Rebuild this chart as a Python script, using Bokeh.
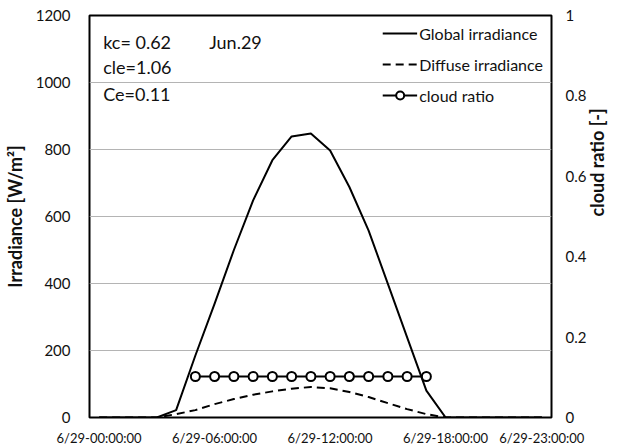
import math
from bokeh.plotting import figure
from bokeh.models import (Range1d, LinearAxis, FixedTicker, Label, Legend, LegendItem,
                          ColumnDataSource)
from bokeh.embed import file_html
from bokeh.resources import INLINE

# ---------------- data ----------------
hours = [0, 1, 2, 3, 4, 5, 6, 7, 8, 9, 10, 11, 12, 13, 14, 15, 16, 17, 18, 19, 20, 21, 22, 23]
global_irr = [0, 0, 0, 0, 22, 185, 340, 500, 648, 768, 839, 848, 797, 688, 558, 399, 239, 80, 0, 0, 0, 0, 0, 0]
diffuse_irr = [0, 0, 0, 0, 10, 22, 40, 55, 68, 78, 86, 91, 87, 76, 61, 43, 25, 10, 0, 0, 0, 0, 0, 0]
cloud_hours = [5, 6, 7, 8, 9, 10, 11, 12, 13, 14, 15, 16, 17]
cloud_ratio = [0.102, 0.102, 0.102, 0.102, 0.102, 0.102, 0.102, 0.102, 0.102, 0.102, 0.102, 0.102, 0.102]
x_tick_hours = [0, 6, 12, 18, 23]
x_tick_labels = ["6/29-00:00:00", "6/29-06:00:00", "6/29-12:00:00", "6/29-18:00:00", "6/29-23:00:00"]
left_ticks = [0, 200, 400, 600, 800, 1000, 1200]
right_ticks = [0, 0.2, 0.4, 0.6, 0.8, 1]
right_tick_labels = ["0", "0.2", "0.4", "0.6", "0.8", "1"]
annotations = ["kc= 0.62", "Jun.29", "cle=1.06", "Ce=0.11"]

FONT = "Lato"
TXT = "#111111"

W, H = 622, 448
p = figure(width=W, height=H, output_backend="svg", toolbar_location=None,
           x_range=Range1d(-0.5, 23.5), y_range=Range1d(0, 1200),
           min_border_left=86, min_border_right=65, min_border_top=15, min_border_bottom=31)
p.extra_y_ranges = {"cr": Range1d(0, 1)}
p.background_fill_color = "white"
p.border_fill_color = "white"
p.outline_line_color = "black"
p.outline_line_width = 2

# grid
p.xgrid.grid_line_color = None
p.ygrid.grid_line_color = "#b4b4b4"
p.ygrid.grid_line_width = 1
p.ygrid.ticker = FixedTicker(ticks=left_ticks)

# x axis
xa = p.xaxis[0]
xa.ticker = FixedTicker(ticks=x_tick_hours)
xa.major_label_overrides = {h: t for h, t in zip(x_tick_hours, x_tick_labels)}
xa.major_label_text_font = FONT
xa.major_label_text_font_size = "13px"
xa.major_label_text_color = TXT
xa.major_label_standoff = 12

# left axis
ya = p.yaxis[0]
ya.ticker = FixedTicker(ticks=left_ticks)
ya.major_label_text_font = FONT
ya.major_label_text_font_size = "15px"
ya.major_label_text_color = TXT
ya.major_label_standoff = 19
ya.axis_label = "Irradiance [W/m\u00b2]"
ya.axis_label_text_font = FONT
ya.axis_label_text_font_size = "18px"
ya.axis_label_text_font_style = "bold"
ya.axis_label_text_color = TXT
ya.axis_label_standoff = 7

# right axis
ra = LinearAxis(y_range_name="cr", ticker=FixedTicker(ticks=right_ticks))
ra.major_label_overrides = {v: s for v, s in zip(right_ticks, right_tick_labels)}
ra.major_label_text_font = FONT
ra.major_label_text_font_size = "15px"
ra.major_label_text_color = TXT
ra.major_label_standoff = 14
ra.axis_label = "cloud ratio [-]"
ra.axis_label_text_font = FONT
ra.axis_label_text_font_size = "18px"
ra.axis_label_text_font_style = "bold"
ra.axis_label_text_color = TXT
ra.axis_label_standoff = 8
try:
    ra.axis_label_orientation = math.pi / 2
except Exception:
    pass
p.add_layout(ra, "right")

for ax in [xa, ya, ra]:
    ax.axis_line_color = None
    ax.major_tick_line_color = None
    ax.minor_tick_line_color = None
    ax.major_tick_out = 0
    ax.major_tick_in = 0
    ax.minor_tick_out = 0
    ax.minor_tick_in = 0

# series
src = ColumnDataSource(dict(h=hours, g=global_irr, d=diffuse_irr))
csrc = ColumnDataSource(dict(h=cloud_hours, c=cloud_ratio))
r_g = p.line("h", "g", source=src, line_color="black", line_width=2)
r_d = p.line("h", "d", source=src, line_color="black", line_width=2, line_dash="8 5")
r_cl = p.line("h", "c", source=csrc, y_range_name="cr", line_color="black", line_width=2)
r_cm = p.scatter("h", "c", source=csrc, y_range_name="cr", marker="circle", size=9,
                 line_color="black", line_width=2, fill_color="white")

legend = Legend(items=[
    LegendItem(label="Global irradiance", renderers=[r_g]),
    LegendItem(label="Diffuse irradiance", renderers=[r_d]),
    LegendItem(label="cloud ratio", renderers=[r_cl, r_cm]),
], location="top_right")
legend.background_fill_alpha = 0
legend.border_line_color = None
legend.label_text_font = FONT
legend.label_text_font_size = "16px"
legend.label_text_color = TXT
legend.glyph_width = 35
legend.glyph_height = 20
legend.spacing = 11
legend.label_standoff = 2
legend.margin = 8
legend.padding = 3
p.add_layout(legend)

# text annotations
ann_pos = [(0.21, 1121), (5.72, 1121), (0.21, 1046), (0.21, 966)]
for t, (x, y) in zip(annotations, ann_pos):
    p.add_layout(Label(x=x, y=y, text=t, text_font=FONT, text_font_size="18px",
                       text_color=TXT, text_baseline="middle", text_align="left"))

open("out.html", "w").write(file_html(p, INLINE))
